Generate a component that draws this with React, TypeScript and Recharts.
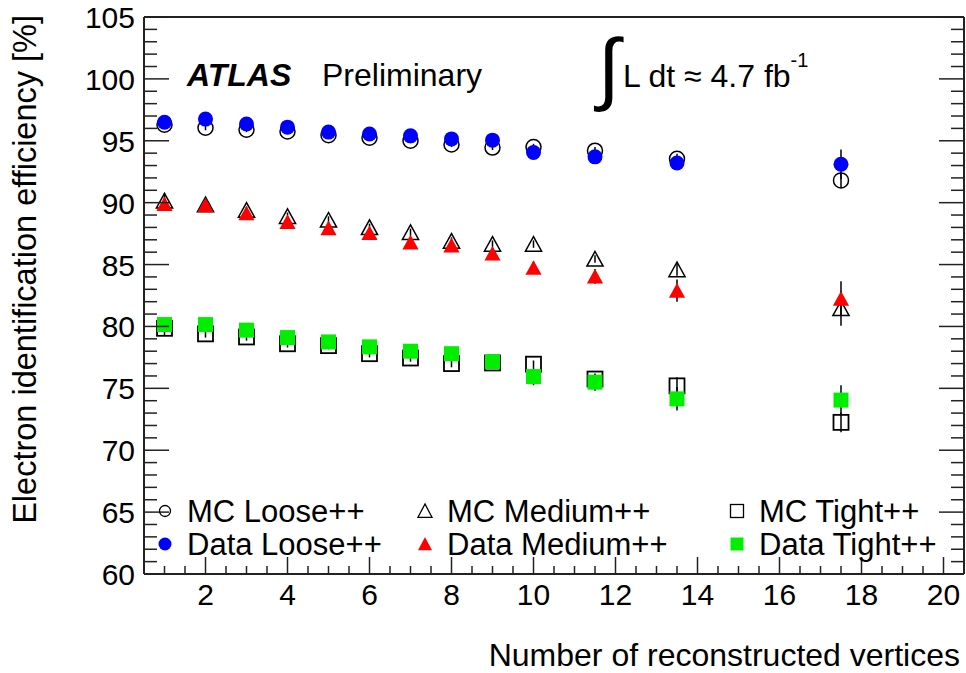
import React from 'react';
import { ScatterChart, Scatter, XAxis, YAxis, ErrorBar, Legend } from 'recharts';

const FONT = '"Liberation Sans", Arial, Helvetica, sans-serif';

// Number of reconstructed vertices (bin centres)
const xValues = [1, 2, 3, 4, 5, 6, 7, 8, 9, 10, 11.5, 13.5, 17.5];

// Efficiencies [%]
const mcLoose = [96.3, 96.05, 95.9, 95.75, 95.45, 95.25, 95.0, 94.7, 94.45, 94.5, 94.2, 93.55, 91.8];
const mcLooseErr = [0.2, 0.2, 0.2, 0.2, 0.2, 0.2, 0.2, 0.2, 0.2, 0.25, 0.3, 0.4, 0.6];
const dataLoose = [96.5, 96.75, 96.35, 96.1, 95.7, 95.55, 95.4, 95.15, 95.05, 94.05, 93.7, 93.2, 93.1];
const dataLooseErr = [0.15, 0.15, 0.15, 0.15, 0.15, 0.15, 0.15, 0.15, 0.2, 0.3, 0.4, 0.5, 1.2];

const mcMedium = [90.15, 89.85, 89.4, 88.9, 88.6, 88.0, 87.6, 86.9, 86.65, 86.65, 85.45, 84.6, 81.45];
const mcMediumErr = [0.6, 0.3, 0.3, 0.3, 0.3, 0.3, 0.3, 0.3, 0.3, 0.3, 0.3, 0.5, 1.4];
const dataMedium = [89.9, 89.8, 89.15, 88.45, 87.95, 87.55, 86.8, 86.55, 85.9, 84.75, 84.05, 82.9, 82.25];
const dataMediumErr = [0.5, 0.2, 0.2, 0.2, 0.2, 0.2, 0.2, 0.2, 0.3, 0.5, 0.6, 0.9, 1.4];

const mcTight = [79.85, 79.4, 79.15, 78.6, 78.45, 77.8, 77.45, 77.0, 77.05, 76.95, 75.75, 75.2, 72.25];
const mcTightErr = [0.6, 0.3, 0.3, 0.3, 0.3, 0.3, 0.3, 0.3, 0.3, 0.3, 0.4, 0.7, 0.8];
const dataTight = [80.15, 80.15, 79.7, 79.1, 78.75, 78.35, 78.0, 77.8, 77.15, 75.95, 75.5, 74.15, 74.05];
const dataTightErr = [0.2, 0.3, 0.3, 0.2, 0.2, 0.2, 0.2, 0.2, 0.3, 0.7, 0.7, 0.95, 1.2];

// Axis ticks
const xTickLabels = [2, 4, 6, 8, 10, 12, 14, 16, 18, 20];
const yTickLabels = [60, 65, 70, 75, 80, 85, 90, 95, 100, 105];
const xDomain: [number, number] = [0.5, 20.5];
const yDomain: [number, number] = [60, 105];

const xTicks: number[] = [];
for (let v = 1; v <= 20; v += 0.5) xTicks.push(v);
const yTicks: number[] = [];
for (let v = 60; v <= 105; v += 1) yTicks.push(v);

const build = (ys: number[], errs: number[]) =>
  xValues.map((x, i) => ({ x, y: ys[i], err: errs[i] }));

const sMcLoose = build(mcLoose, mcLooseErr);
const sDataLoose = build(dataLoose, dataLooseErr);
const sMcMedium = build(mcMedium, mcMediumErr);
const sDataMedium = build(dataMedium, dataMediumErr);
const sMcTight = build(mcTight, mcTightErr);
const sDataTight = build(dataTight, dataTightErr);

const BLUE = '#0000ff';
const RED = '#ff0000';
const GREEN = '#00ee00';

const circleShape = (fill: string, stroke: string, r: number) => (p: any) =>
  <circle cx={p.cx} cy={p.cy} r={r} fill={fill} stroke={stroke} strokeWidth={1.5} />;
const triShape = (fill: string, stroke: string, s: number) => (p: any) => {
  const { cx, cy } = p;
  const pts = `${cx},${cy - s} ${cx - s * 1.08},${cy + s * 0.95} ${cx + s * 1.08},${cy + s * 0.95}`;
  return <polygon points={pts} fill={fill} stroke={stroke} strokeWidth={1.5} />;
};
const squareShape = (fill: string, stroke: string, s: number) => (p: any) =>
  <rect x={p.cx - s} y={p.cy - s} width={2 * s} height={2 * s} fill={fill} stroke={stroke} strokeWidth={stroke === 'none' ? 0 : 1.8} />;

const BottomTick = (props: any) => {
  const { x, y, payload } = props;
  const v = payload.value;
  const major = xTickLabels.includes(v);
  return (
    <g>
      <line x1={x} y1={y} x2={x} y2={y - (major ? 17 : 8)} stroke="#222" strokeWidth={1.5} />
      {major && (
        <text x={x} y={y + 31} textAnchor="middle" fontSize={30} fontFamily={FONT} fill="#000">{v}</text>
      )}
    </g>
  );
};
const TopTick = (props: any) => {
  const { x, y, payload } = props;
  const major = xTickLabels.includes(payload.value);
  return <line x1={x} y1={y} x2={x} y2={y + (major ? 17 : 8)} stroke="#222" strokeWidth={1.5} />;
};
const LeftTick = (props: any) => {
  const { x, y, payload } = props;
  const v = payload.value;
  const major = yTickLabels.includes(v);
  return (
    <g>
      <line x1={x} y1={y} x2={x + (major ? 25 : 13)} y2={y} stroke="#222" strokeWidth={1.5} />
      {major && (
        <text x={x - 9} y={y + 11} textAnchor="end" fontSize={30} fontFamily={FONT} fill="#000">{v}</text>
      )}
    </g>
  );
};
const RightTick = (props: any) => {
  const { x, y, payload } = props;
  const major = yTickLabels.includes(payload.value);
  return <line x1={x} y1={y} x2={x - (major ? 25 : 13)} y2={y} stroke="#222" strokeWidth={1.5} />;
};

const legendRows = [
  [
    { label: 'MC Loose++', kind: 'circle', fill: 'none', x: 165 },
    { label: 'MC Medium++', kind: 'tri', fill: 'none', x: 425 },
    { label: 'MC Tight++', kind: 'square', fill: 'none', x: 737 },
  ],
  [
    { label: 'Data Loose++', kind: 'circle', fill: BLUE, x: 165 },
    { label: 'Data Medium++', kind: 'tri', fill: RED, x: 425 },
    { label: 'Data Tight++', kind: 'square', fill: GREEN, x: 737 },
  ],
];

const Overlay = () => (
  <svg width={966} height={673} style={{ position: 'absolute', left: 0, top: 0 }}>
    <text x={187} y={86} fontSize={32} fontFamily={FONT} fontWeight="bold" fontStyle="italic" fill="#000">ATLAS</text>
    <text x={322} y={86} fontSize={32} fontFamily={FONT} fill="#000">Preliminary</text>
    <text x={598} y={95} fontSize={80} fontFamily={FONT} fill="#000">∫</text>
    <text x={623} y={87} fontSize={32} fontFamily={FONT} fill="#000">
      L dt ≈ 4.7 fb<tspan dy={-20} fontSize={20}>-1</tspan>
    </text>
    {legendRows.map((row, ri) =>
      row.map((it, ci) => {
        const cy = ri === 0 ? 511 : 544;
        const stroke = it.fill === 'none' ? '#000' : 'none';
        let marker;
        if (it.kind === 'circle') {
          marker = <circle cx={it.x} cy={cy} r={it.fill === 'none' ? 5.5 : 6.5} fill={it.fill} stroke={stroke} strokeWidth={1.3} />;
        } else if (it.kind === 'tri') {
          const s = 7;
          marker = <polygon points={`${it.x},${cy - s} ${it.x - s},${cy + s * 0.9} ${it.x + s},${cy + s * 0.9}`} fill={it.fill} stroke={stroke} strokeWidth={1.3} />;
        } else {
          marker = <rect x={it.x - 6.5} y={cy - 6.5} width={13} height={13} fill={it.fill} stroke={stroke} strokeWidth={1.3} />;
        }
        return (
          <g key={`${ri}-${ci}`}>
            {marker}
            <text x={it.x + 22} y={cy + 11} fontSize={31} fontFamily={FONT} fill="#000">{it.label}</text>
          </g>
        );
      })
    )}
  </svg>
);

export default function App() {
  return (
    <div style={{ position: 'absolute', left: 0, top: 0, width: 966, height: 673, background: '#fff' }}>
      <ScatterChart width={966} height={673} margin={{ top: 16, right: 1, bottom: 0, left: 0 }}>
        <XAxis
          xAxisId="b" type="number" dataKey="x" domain={xDomain} allowDataOverflow
          ticks={xTicks} interval={0} tick={<BottomTick />} tickSize={0} tickMargin={0}
          height={99} axisLine={{ stroke: '#222', strokeWidth: 2 }}
          label={{
            content: () => (
              <text x={960} y={666} textAnchor="end" fontSize={32} fontFamily={FONT} fill="#000">
                Number of reconstructed vertices
              </text>
            ),
          }}
        />
        <XAxis
          xAxisId="t" orientation="top" type="number" domain={xDomain} allowDataOverflow
          ticks={xTicks} interval={0} tick={<TopTick />} tickSize={0} tickMargin={0}
          height={1} axisLine={{ stroke: '#222', strokeWidth: 2 }}
        />
        <YAxis
          yAxisId="l" type="number" dataKey="y" domain={yDomain} allowDataOverflow
          ticks={yTicks} interval={0} tick={<LeftTick />} tickSize={0} tickMargin={0}
          width={144} axisLine={{ stroke: '#222', strokeWidth: 2 }}
          label={{
            content: () => (
              <text x={36} y={15} transform="rotate(-90, 36, 15)" textAnchor="end" fontSize={32.5} fontFamily={FONT} fill="#000">
                Electron identification efficiency [%]
              </text>
            ),
          }}
        />
        <YAxis
          yAxisId="r" orientation="right" type="number" domain={yDomain} allowDataOverflow
          ticks={yTicks} interval={0} tick={<RightTick />} tickSize={0} tickMargin={0}
          width={1} axisLine={{ stroke: '#222', strokeWidth: 2 }}
        />
        <Scatter xAxisId="b" yAxisId="l" name="MC Loose++" data={sMcLoose} isAnimationActive={false} shape={circleShape('none', '#000', 7.5)}>
          <ErrorBar dataKey="err" direction="y" width={0} stroke="#000" strokeWidth={1.5} />
        </Scatter>
        <Scatter xAxisId="b" yAxisId="l" name="MC Medium++" data={sMcMedium} isAnimationActive={false} shape={triShape('none', '#000', 7.5)}>
          <ErrorBar dataKey="err" direction="y" width={0} stroke="#000" strokeWidth={1.5} />
        </Scatter>
        <Scatter xAxisId="b" yAxisId="l" name="MC Tight++" data={sMcTight} isAnimationActive={false} shape={squareShape('none', '#000', 7.5)}>
          <ErrorBar dataKey="err" direction="y" width={0} stroke="#000" strokeWidth={1.5} />
        </Scatter>
        <Scatter xAxisId="b" yAxisId="l" name="Data Loose++" data={sDataLoose} isAnimationActive={false} shape={circleShape(BLUE, 'none', 7.5)}>
          <ErrorBar dataKey="err" direction="y" width={0} stroke="#000" strokeWidth={1.5} />
        </Scatter>
        <Scatter xAxisId="b" yAxisId="l" name="Data Medium++" data={sDataMedium} isAnimationActive={false} shape={triShape(RED, 'none', 7.5)}>
          <ErrorBar dataKey="err" direction="y" width={0} stroke="#000" strokeWidth={1.5} />
        </Scatter>
        <Scatter xAxisId="b" yAxisId="l" name="Data Tight++" data={sDataTight} isAnimationActive={false} shape={squareShape(GREEN, 'none', 7.5)}>
          <ErrorBar dataKey="err" direction="y" width={0} stroke="#000" strokeWidth={1.5} />
        </Scatter>
        <Legend
          layout="horizontal" verticalAlign="middle" align="center"
          wrapperStyle={{ position: 'absolute', left: 0, top: 0, width: 966, height: 673, pointerEvents: 'none' }}
          content={() => <Overlay />}
        />
      </ScatterChart>
    </div>
  );
}
